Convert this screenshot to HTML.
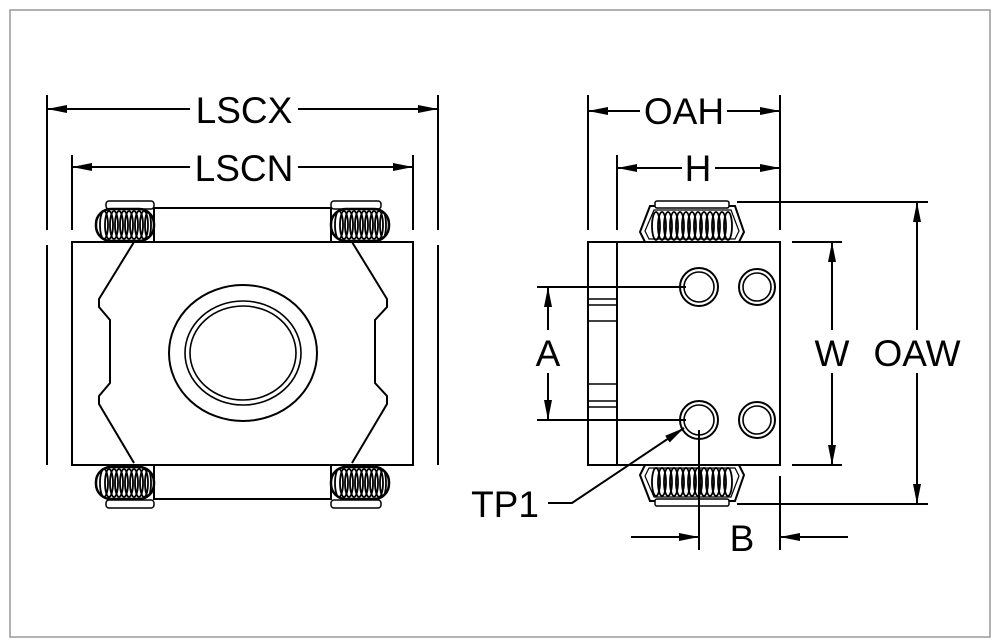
<!DOCTYPE html>
<html><head><style>
html,body{margin:0;padding:0;background:#fff;}
svg{display:block;}
text{font-family:"Liberation Sans",sans-serif;font-size:37px;fill:#000;}
</style></head><body>
<svg width="1001" height="644" viewBox="0 0 1001 644" xmlns="http://www.w3.org/2000/svg">
<defs>
<marker id="ar" viewBox="0 0 20 8" refX="20" refY="4" markerWidth="20" markerHeight="8" markerUnits="userSpaceOnUse" orient="auto-start-reverse">
<path d="M0,0 L20,4 L0,8 Z" fill="#000"/></marker>
<g id="coilH">
<rect x="0" y="2" width="58" height="32" rx="15" fill="#fff" stroke="#000" stroke-width="2.5"/>
<g fill="none" stroke="#000" stroke-width="1.8">
<ellipse cx="8" cy="18" rx="4" ry="14"/><ellipse cx="13" cy="18" rx="4" ry="14"/><ellipse cx="18" cy="18" rx="4" ry="14"/><ellipse cx="23" cy="18" rx="4" ry="14"/><ellipse cx="28" cy="18" rx="4" ry="14"/><ellipse cx="33" cy="18" rx="4" ry="14"/><ellipse cx="38" cy="18" rx="4" ry="14"/><ellipse cx="43" cy="18" rx="4" ry="14"/><ellipse cx="48" cy="18" rx="4" ry="14"/><ellipse cx="52" cy="18" rx="3" ry="13"/>
</g></g>
<g id="coilR">
<g fill="none" stroke="#000" stroke-width="1.8">
<ellipse cx="656" cy="0" rx="4" ry="14"/><ellipse cx="662" cy="0" rx="4" ry="14"/><ellipse cx="668" cy="0" rx="4" ry="14"/><ellipse cx="674" cy="0" rx="4" ry="14"/><ellipse cx="680" cy="0" rx="4" ry="14"/><ellipse cx="686" cy="0" rx="4" ry="14"/><ellipse cx="692" cy="0" rx="4" ry="14"/><ellipse cx="698" cy="0" rx="4" ry="14"/><ellipse cx="704" cy="0" rx="4" ry="14"/><ellipse cx="710" cy="0" rx="4" ry="14"/><ellipse cx="716" cy="0" rx="4" ry="14"/><ellipse cx="722" cy="0" rx="4" ry="14"/><ellipse cx="728" cy="0" rx="4" ry="14"/>
</g></g>
</defs>
<rect x="10" y="10" width="980" height="627" fill="none" stroke="#999" stroke-width="1.5"/>
<g stroke="#000" stroke-width="2" fill="none">
<line x1="47" y1="95" x2="47" y2="230"/><line x1="47" y1="245" x2="47" y2="465"/>
<line x1="438" y1="95" x2="438" y2="230"/><line x1="438" y1="245" x2="438" y2="465"/>
<line x1="72" y1="155" x2="72" y2="230"/><line x1="413" y1="155" x2="413" y2="230"/>
<line x1="47" y1="109" x2="190" y2="109" marker-start="url(#ar)"/>
<line x1="298" y1="109" x2="438" y2="109" marker-end="url(#ar)"/>
<line x1="72" y1="167" x2="190" y2="167" marker-start="url(#ar)"/>
<line x1="298" y1="167" x2="413" y2="167" marker-end="url(#ar)"/>
<rect x="72" y="242" width="341" height="223"/>
<path d="M134,242 L99,299 L99,307 L110,320 L110,383 L99,396 L99,404 L134,463"/>
<path d="M352,242 L387,299 L387,307 L375,320 L375,383 L387,396 L387,404 L352,463"/>
<ellipse cx="243" cy="353" rx="74" ry="68"/>
<ellipse cx="243" cy="353" rx="58" ry="52" stroke-width="1.6"/>
<ellipse cx="243" cy="353" rx="53" ry="47" stroke-width="1.6"/>
<line x1="154" y1="208" x2="331" y2="208"/>
<line x1="154" y1="499" x2="331" y2="499"/>
<rect x="106" y="201" width="48" height="8" rx="3" stroke-width="1.5"/>
<rect x="331" y="201" width="50" height="8" rx="3" stroke-width="1.5"/>
<rect x="106" y="500" width="48" height="8" rx="3" stroke-width="1.5"/>
<rect x="331" y="500" width="50" height="8" rx="3" stroke-width="1.5"/>
</g>
<use href="#coilH" x="96" y="207"/>
<use href="#coilH" x="331" y="207"/>
<use href="#coilH" x="96" y="465"/>
<use href="#coilH" x="331" y="465"/>
<g stroke="#000" stroke-width="2" fill="none">
<line x1="154" y1="208" x2="154" y2="242"/><line x1="331" y1="208" x2="331" y2="242"/>
<line x1="154" y1="465" x2="154" y2="500"/><line x1="331" y1="465" x2="331" y2="500"/>
</g>
<text x="244" y="123" text-anchor="middle">LSCX</text>
<text x="244" y="181" text-anchor="middle">LSCN</text>

<g stroke="#000" stroke-width="2" fill="none">
<line x1="588" y1="95" x2="588" y2="230"/><line x1="617" y1="155" x2="617" y2="230"/>
<line x1="780" y1="95" x2="780" y2="230"/>
<line x1="588" y1="111" x2="640" y2="111" marker-start="url(#ar)"/>
<line x1="727" y1="111" x2="780" y2="111" marker-end="url(#ar)"/>
<line x1="617" y1="168" x2="682" y2="168" marker-start="url(#ar)"/>
<line x1="715" y1="168" x2="780" y2="168" marker-end="url(#ar)"/>
<rect x="588" y="242" width="192" height="223"/>
<line x1="617" y1="242" x2="617" y2="465"/>
<g stroke-width="1.6"><line x1="588" y1="299" x2="617" y2="299"/><line x1="588" y1="305" x2="617" y2="305"/><line x1="588" y1="321" x2="617" y2="321"/>
<line x1="588" y1="384" x2="617" y2="384"/><line x1="588" y1="401" x2="617" y2="401"/><line x1="588" y1="407" x2="617" y2="407"/></g>
<circle cx="699" cy="287" r="19"/><circle cx="699" cy="287" r="15" stroke-width="1.6"/>
<circle cx="757" cy="287" r="18"/><circle cx="757" cy="287" r="14" stroke-width="1.6"/>
<circle cx="699" cy="420" r="19"/><circle cx="699" cy="420" r="15" stroke-width="1.6"/>
<circle cx="757" cy="420" r="18"/><circle cx="757" cy="420" r="14" stroke-width="1.6"/>
<line x1="537" y1="287" x2="686" y2="287"/><line x1="537" y1="420" x2="686" y2="420"/>
<line x1="548" y1="287" x2="548" y2="330" marker-start="url(#ar)"/>
<line x1="548" y1="373" x2="548" y2="420" marker-end="url(#ar)"/>
<line x1="792" y1="242" x2="842" y2="242"/><line x1="792" y1="465" x2="842" y2="465"/>
<line x1="832" y1="242" x2="832" y2="330" marker-start="url(#ar)"/>
<line x1="832" y1="373" x2="832" y2="465" marker-end="url(#ar)"/>
<line x1="737" y1="202" x2="928" y2="202"/><line x1="737" y1="504" x2="928" y2="504"/>
<line x1="917" y1="202" x2="917" y2="330" marker-start="url(#ar)"/>
<line x1="917" y1="373" x2="917" y2="504" marker-end="url(#ar)"/>
<line x1="699" y1="430" x2="699" y2="550"/><line x1="780" y1="476" x2="780" y2="550"/>
<line x1="631" y1="537" x2="699" y2="537" marker-end="url(#ar)"/>
<line x1="848" y1="537" x2="780" y2="537" marker-end="url(#ar)"/>
<polyline points="548,503 572,503 684,428" marker-end="url(#ar)"/>
</g>
<g>
<path d="M645,242 L640,232 L650,206 L735,206 L744,232 L739,242 Z" fill="#fff" stroke="#000" stroke-width="2"/>
<path d="M649,239 L645,231 L654,210 L731,210 L739,231 L735,239 Z" fill="none" stroke="#000" stroke-width="1.2"/>
<rect x="655" y="201" width="74" height="7" rx="2" fill="#fff" stroke="#000" stroke-width="1.5"/>
<use href="#coilR" y="226"/>
<path d="M645,465 L640,475 L650,501 L735,501 L744,475 L739,465 Z" fill="#fff" stroke="#000" stroke-width="2"/>
<path d="M649,468 L645,476 L654,497 L731,497 L739,476 L735,468 Z" fill="none" stroke="#000" stroke-width="1.2"/>
<rect x="655" y="499" width="74" height="7" rx="2" fill="#fff" stroke="#000" stroke-width="1.5"/>
<use href="#coilR" y="482"/>
<line x1="699" y1="465" x2="699" y2="510" stroke="#000" stroke-width="2"/>
</g>
<text x="684" y="124" text-anchor="middle">OAH</text>
<text x="698" y="181" text-anchor="middle">H</text>
<text x="548" y="366" text-anchor="middle">A</text>
<text x="832" y="366" text-anchor="middle">W</text>
<text x="917" y="366" text-anchor="middle">OAW</text>
<text x="742" y="551" text-anchor="middle">B</text>
<text x="505" y="517" text-anchor="middle">TP1</text>
</svg>
</body></html>
